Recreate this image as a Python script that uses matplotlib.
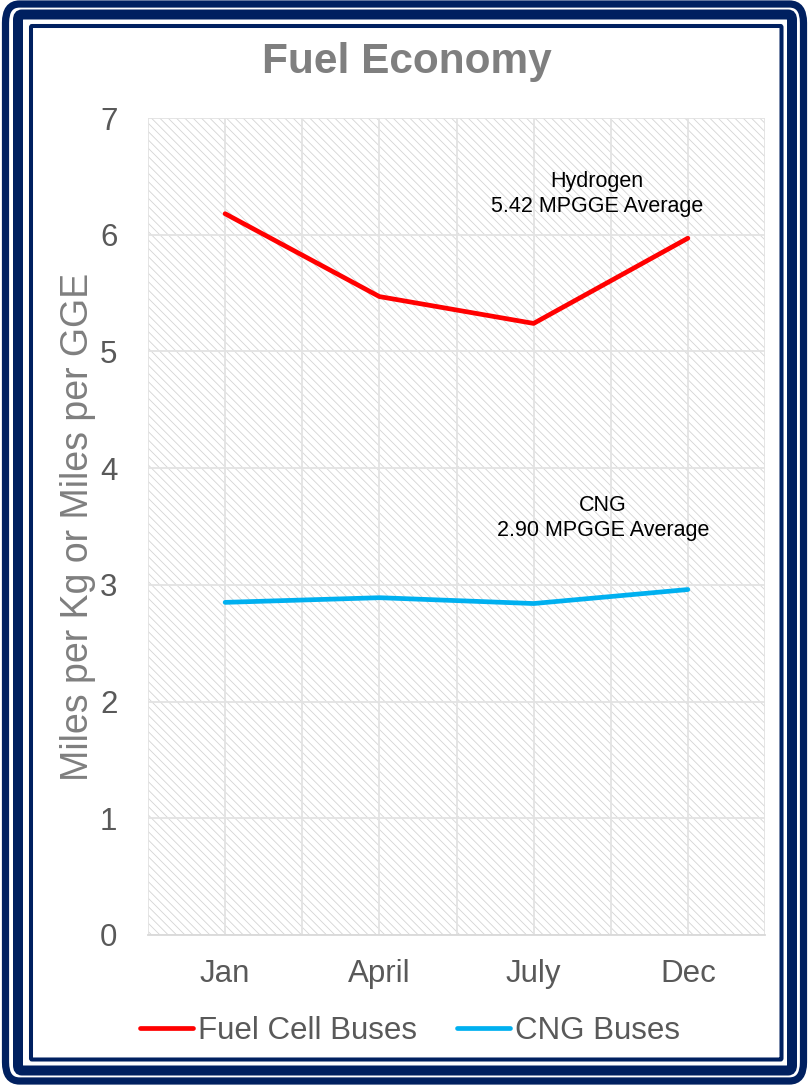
import matplotlib
matplotlib.use("Agg")
import matplotlib.pyplot as plt
from matplotlib.patches import Rectangle, FancyBboxPatch

# data
months = ["Jan", "April", "July", "Dec"]
fuel_cell = [6.18, 5.47, 5.24, 5.97]
cng = [2.85, 2.89, 2.84, 2.96]
hydrogen_note = "Hydrogen\n5.42 MPGGE Average"
cng_note = "CNG\n2.90 MPGGE Average"

W, H = 808, 1086
NAVY = "#002060"
plain = ["Liberation Sans", "DejaVu Sans"]
plt.rcParams["hatch.linewidth"] = 0.6

fig = plt.figure(figsize=(W / 100, H / 100), dpi=100)


def fx(px):
    return px / W


def fy(py):
    # pixel row (from top) -> figure fraction
    return 1 - py / H


# triple navy frame
def frame(l, t, r, b, lw, rad):
    p = FancyBboxPatch((fx(l), fy(b)), fx(r - l), fy(t) - fy(b),
                       boxstyle="round,pad=0,rounding_size=%f" % fx(rad),
                       transform=fig.transFigure, fill=False,
                       edgecolor=NAVY, linewidth=lw, zorder=-5)
    fig.patches.append(p)


frame(5.5, 4, 803.5, 1081, 5.2, 14)
frame(18, 14.5, 792, 1070.5, 7.2, 4)
frame(31, 26, 781.5, 1059.5, 2.9, 1)

ax = fig.add_axes([fx(148), fy(935), fx(765 - 148), fy(118) - fy(935)])
x = list(range(len(months)))

# hatched plot area
bg = Rectangle((0, 0), 1, 1, transform=ax.transAxes, facecolor="white",
               edgecolor="#d4d4d4", hatch="\\\\\\\\", linewidth=0, zorder=0)
ax.add_patch(bg)
ax.patch.set_visible(False)

ax.plot(x, fuel_cell, color="#ff0000", linewidth=3.4, label="Fuel Cell Buses",
        solid_capstyle="round", zorder=3)
ax.plot(x, cng, color="#00b0f0", linewidth=3.4, label="CNG Buses",
        solid_capstyle="round", zorder=3)

ax.set_xlim(-0.5, 3.5)
ax.set_ylim(0, 7)
ax.set_xticks(x)
ax.set_xticklabels(months)
ax.set_xticks([-0.5, 0.5, 1.5, 2.5, 3.5], minor=True)
ax.set_yticks(range(8))
ax.grid(True, which="both", color="#e3e3e3", linewidth=1.3, zorder=1)
ax.set_axisbelow(True)
ax.tick_params(which="both", length=0)
ax.tick_params(axis="y", pad=22, labelsize=22.5, labelcolor="#595959")
ax.tick_params(axis="x", pad=17, labelsize=22.5, labelcolor="#595959")
for lab in ax.get_xticklabels() + ax.get_yticklabels():
    lab.set_family(plain)
for s in ["top", "right", "left"]:
    ax.spines[s].set_visible(False)
ax.spines["bottom"].set_color("#d9d9d9")
ax.spines["bottom"].set_linewidth(1.3)

ax.set_ylabel("Miles per Kg or Miles per GGE", fontsize=27, color="#7f7f7f",
              family=plain)
ax.yaxis.set_label_coords(fx(96 - 148) / fx(765 - 148), 0.5)

fig.text(fx(407), fy(62), "Fuel Economy", ha="center", va="center",
         fontsize=30.5, fontweight="bold", color="#7f7f7f", family=plain)

ax.text(fx(597), fy(194), hydrogen_note, transform=fig.transFigure,
        ha="center", va="center", fontsize=15.5, color="black",
        family=plain, linespacing=1.25)
ax.text(fx(603), fy(518), cng_note, transform=fig.transFigure,
        ha="center", va="center", fontsize=15.5, color="black",
        family=plain, linespacing=1.25)

leg = fig.legend(loc="center", bbox_to_anchor=(fx(410), fy(1031)), ncol=2,
                 frameon=False, handlelength=1.7, handletextpad=0.16,
                 columnspacing=1.28, prop={"family": plain, "size": 22.5})
for t in leg.get_texts():
    t.set_color("#595959")

fig.savefig("out.png", dpi=100)
